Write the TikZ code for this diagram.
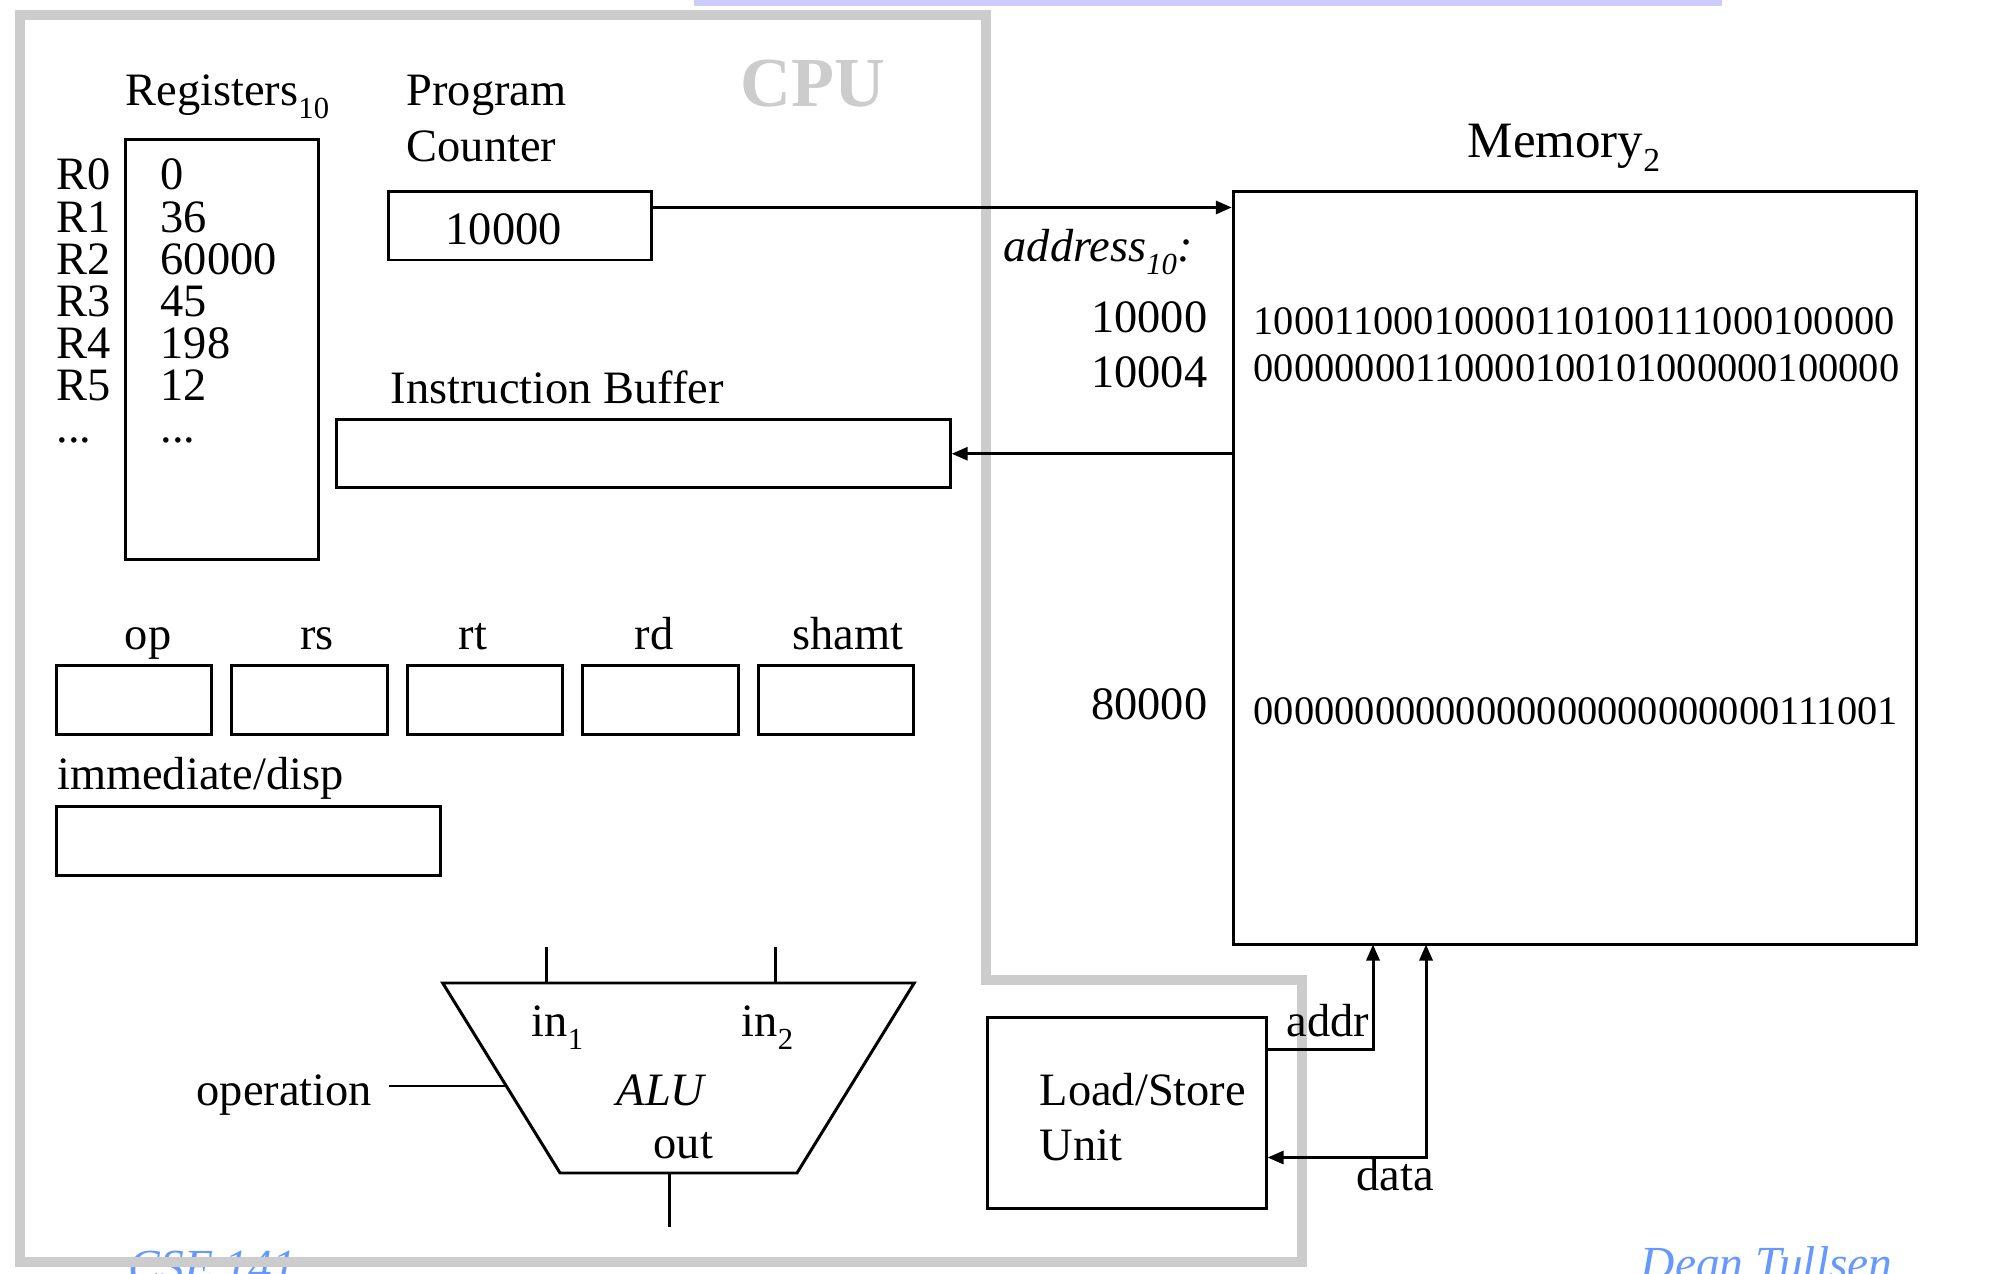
\documentclass[tikz,border=0pt]{standalone}
\usepackage{fontspec}
\setmainfont{Liberation Serif}
\usetikzlibrary{arrows.meta}
\definecolor{cpugray}{HTML}{CCCCCC}
\definecolor{topbar}{HTML}{CCCCFF}
\definecolor{footblue}{HTML}{6699FF}
\newcommand{\subidx}[1]{\raisebox{-0.26em}{\scalebox{0.66}{#1}}}
\begin{document}
\begin{tikzpicture}[x=0.01cm,y=-0.01cm,
    txt/.style={inner sep=0pt,font=\fontsize{13.2}{15}\selectfont},
    bits/.style={inner sep=0pt,font=\fontsize{11.5}{13}\selectfont,anchor=base west},
    foot/.style={inner sep=0pt,text=footblue,font=\fontsize{13.5}{16}\selectfont\itshape,anchor=base west},
    box/.style={draw,line width=0.85pt,inner sep=0pt},
    wire/.style={line width=0.85pt},
    arr/.style={wire,-{Triangle[length=0.16cm,width=0.13cm]}}]
\useasboundingbox (0,0) rectangle (2012,1274);
\fill[topbar] (694,0) rectangle (1722,6);
\node[foot] (course) at (128,1283) {CSE 141};
\node[foot] (author) at (1640,1280) {Dean Tullsen};
% CPU
\draw[cpugray,line width=0.1cm] (20,15)--(986,15)--(986,980)--(1302,980)--(1302,1262)--(20,1262)--cycle;
\node[inner sep=0pt,text=cpugray,font=\fontsize{20}{24}\selectfont\bfseries,anchor=base] (cpu) at (813,107) {CPU};
% registres
\node[txt,anchor=base west] (reglbl) at (125,106) {Registers\subidx{10}};
\node[box,minimum width=1.92cm,minimum height=4.19cm] (regs) at (222,349.5) {};
\foreach \r/\v [count=\i from 0] in {R0/0,R1/36,R2/60000,R3/45,R4/198,R5/12} {
    \node[txt,anchor=base west] (rn\i) at (56,190+42.2*\i) {\r};
    \node[txt,anchor=base west] (rv\i) at (160,190+42.2*\i) {\v};
}
\node[txt,anchor=base west] (rndots) at (56,443) {...};
\node[txt,anchor=base west] (rvdots) at (160,443) {...};
% PC et buffer
\node[txt,anchor=base west] (pclbl) at (406,106) {Program};
\node[txt,anchor=base west] (pclbl2) at (406,162) {Counter};
\node[box,minimum width=2.62cm,minimum height=0.68cm] (pc) at (520,226) {};
\node[txt,anchor=base west] (pcval) at (445,245) {10000};
\node[txt,anchor=base west] (iblbl) at (390,404) {Instruction Buffer};
\node[box,minimum width=6.13cm,minimum height=0.675cm] (ib) at (643.5,453.75) {};
% champs
\foreach \f/\lx [count=\i from 0] in {op/148,rs/317,rt/473,rd/654,shamt/848} {
    \node[box,minimum width=1.55cm,minimum height=0.685cm] (f\i) at (134+175.5*\i,700) {};
    \node[txt,anchor=base] (fl\i) at (\lx,650) {\f};
}
\node[txt,anchor=base west] (immlbl) at (56.5,790) {immediate/disp};
\node[box,minimum width=3.835cm,minimum height=0.68cm] (imm) at (248.25,841) {};
% ALU
\draw[wire] (442.7,983)--(914.2,983)--(797,1173)--(560,1173)--cycle;
\coordinate (aluin1) at (546.6,983);
\coordinate (aluin2) at (775,983);
\coordinate (aluout) at (669.8,1173);
\coordinate (aluop) at (506.3,1086);
\draw[wire] (aluin1)--++(0,-36.4);
\draw[wire] (aluin2)--++(0,-36.4);
\draw[wire] (aluout)--++(0,54);
\node[txt,anchor=base west] (in1) at (531,1037) {in\subidx{1}};
\node[txt,anchor=base west] (in2) at (741,1037) {in\subidx{2}};
\node[txt,anchor=base west] (alulbl) at (616,1106) {\itshape ALU};
\node[txt,anchor=base west] (outlbl) at (653,1159) {out};
\node[txt,anchor=base west] (oplbl) at (196,1106) {operation};
\draw[wire] (389,1086)--(aluop);
% memoire
\node[txt,anchor=base west,font=\fontsize{14.5}{17}\selectfont] (memlbl) at (1467,158) {Memory\subidx{2}};
\node[box,minimum width=6.825cm,minimum height=7.525cm] (mem) at (1574.75,568.25) {};
\node[txt,anchor=base west] (addrlbl) at (1003,262) {\itshape address\subidx{10}:};
\node[txt,anchor=base east] (a1) at (1208,333) {10000};
\node[txt,anchor=base east] (a2) at (1208,388) {10004};
\node[txt,anchor=base east] (a3) at (1208,720) {80000};
\node[bits] (w1) at (1253,335) {10001100010000110100111000100000};
\node[bits] (w2) at (1253,382) {00000000110000100101000000100000};
\node[bits] (w3) at (1253,725) {00000000000000000000000000111001};
\coordinate (pcout) at ([yshift=-0.17cm]pc.north east);
\draw[arr] (pcout)--(pcout -| mem.west);
\draw[arr] (ib.east -| mem.west)--(ib.east);
% load/store
\node[box,minimum width=2.78cm,minimum height=1.9cm] (lsu) at (1127,1113) {};
\node[txt,anchor=base west] (lsulbl) at (1039,1106) {Load/Store};
\node[txt,anchor=base west] (lsulbl2) at (1039,1161) {Unit};
\coordinate (addrout) at ([yshift=-0.33cm]lsu.north east);
\coordinate (datain) at ([yshift=0.52cm]lsu.south east);
\coordinate (memaddr) at (1373,944.5);
\coordinate (memdata) at (1426,944.5);
\draw[arr] (addrout)-|(memaddr);
\draw[wire,{Triangle[length=0.16cm,width=0.13cm]}-{Triangle[length=0.16cm,width=0.13cm]}] (datain)-|(memdata);
\node[txt,anchor=base west] (addrl) at (1286,1037) {addr};
\node[txt,anchor=base west] (datal) at (1356,1191) {data};
\end{tikzpicture}
\end{document}
